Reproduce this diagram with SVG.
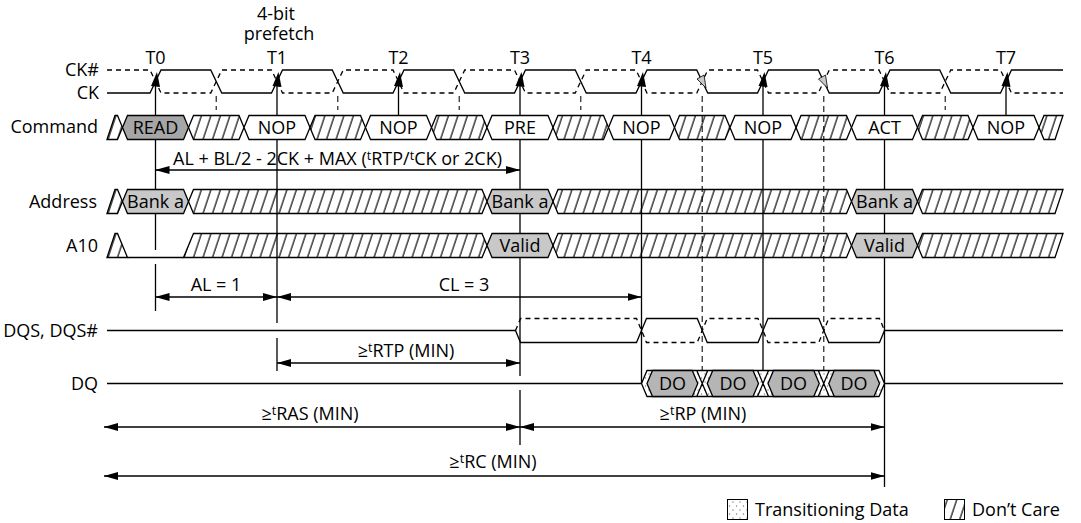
<svg xmlns="http://www.w3.org/2000/svg" width="1081" height="523" viewBox="0 0 1081 523">
<style>
text{font-family:"Open Sans","Liberation Sans",sans-serif;font-size:18px;fill:#000}
.lbl{text-anchor:end}
.c{text-anchor:middle}
.sig{fill:none;stroke:#000;stroke-width:1.3}
.dash{fill:none;stroke:#000;stroke-width:1.3;stroke-dasharray:5,4}
.hx{fill:url(#hatch);stroke:#000;stroke-width:1.3}
.wh{fill:#fff;stroke:#000;stroke-width:1.3}
.g1{fill:#a6a6a6;stroke:#000;stroke-width:1.3}
.g2{fill:#c8c8c8;stroke:#000;stroke-width:1.3}
.g3{fill:#b5b5b5;stroke:#000;stroke-width:1.3}
.vl{fill:none;stroke:#000;stroke-width:1.3}
.vd{fill:none;stroke:#333;stroke-width:1.3;stroke-dasharray:6,4}
.dim{fill:none;stroke:#000;stroke-width:1.3;marker-start:url(#ah);marker-end:url(#ah)}
</style>
<defs>
<pattern id="hatch" patternUnits="userSpaceOnUse" width="9.5" height="20" patternTransform="skewX(-18.4)">
<line x1="2" y1="-1" x2="2" y2="21" stroke="#000" stroke-width="1.2"/>
</pattern>
<pattern id="dots" patternUnits="userSpaceOnUse" width="7" height="8">
<rect width="7" height="8" fill="#fff"/>
<circle cx="1.5" cy="2" r="0.7" fill="#777"/>
<circle cx="5" cy="6" r="0.7" fill="#777"/>
</pattern>
<marker id="ah" viewBox="0 0 14 8" refX="14" refY="4" markerWidth="14" markerHeight="8" markerUnits="userSpaceOnUse" orient="auto-start-reverse">
<path d="M0,0 L14,4 L0,8 z" fill="#000"/>
</marker>
</defs>

<g id="connectors">
<path class="vl" d="M155.5,86V250M155.5,264V311M277,86V323M277,338V371M398.5,86V116M520,86V376M520,390V445M641.5,86V383M763,86V371M884.5,86V487M1006,86V116"/>
<path class="vd" d="M216.25,96V110M337.75,96V110M459.25,96V110M580.75,96V110M945.25,96V110M702.25,96V371M823.75,96V371"/>
<path class="dim" d="M155.5,170H520"/>
<path class="dim" d="M155.5,297H277"/>
<path class="dim" d="M277,297H641.5"/>
<path class="dim" d="M277,363H520"/>
<path class="dim" d="M104,427H520"/>
<path class="dim" d="M520,427H884.5"/>
<path class="dim" d="M104,476H884.5"/>
<text class="c" x="337.5" y="165">AL + BL/2 - 2CK + MAX (<tspan font-size="12.5" dy="-5">t</tspan><tspan dy="5">RTP/</tspan><tspan font-size="12.5" dy="-5">t</tspan><tspan dy="5">CK or 2CK)</tspan></text>
<text class="c" x="216" y="291">AL = 1</text>
<text class="c" x="464" y="291">CL = 3</text>
<text class="c" x="406" y="357">≥<tspan font-size="12.5" dy="-5">t</tspan><tspan dy="5">RTP (MIN)</tspan></text>
<text class="c" x="310" y="420">≥<tspan font-size="12.5" dy="-5">t</tspan><tspan dy="5">RAS (MIN)</tspan></text>
<text class="c" x="703" y="420">≥<tspan font-size="12.5" dy="-5">t</tspan><tspan dy="5">RP (MIN)</tspan></text>
<text class="c" x="493" y="468">≥<tspan font-size="12.5" dy="-5">t</tspan><tspan dy="5">RC (MIN)</tspan></text>
</g>

<g id="clock">
<text class="lbl" x="99" y="76">CK#</text>
<text class="lbl" x="99" y="99">CK</text>
<text class="c"><tspan x="276" y="20">4-bit</tspan><tspan x="279" y="39.5">prefetch</tspan></text>
<text class="c" x="155.5" y="64">T0</text>
<text class="c" x="277" y="64">T1</text>
<text class="c" x="398.5" y="64">T2</text>
<text class="c" x="520" y="64">T3</text>
<text class="c" x="641.5" y="64">T4</text>
<text class="c" x="763" y="64">T5</text>
<text class="c" x="884.5" y="64">T6</text>
<text class="c" x="1006" y="64">T7</text>
<path class="dash" d="M107,70H150L161,93H210.75L221.75,70H271.5L282.5,93H332.25L343.25,70H393L404,93H453.75L464.75,70H514.5L525.5,93H575.25L586.25,70H636L647,93H696.75L707.75,70H757.5L768.5,93H818.25L829.25,70H879L890,93H939.75L950.75,70H1000.5L1011.5,93H1063"/>
<path class="sig" d="M107,93H150L161,70H210.75L221.75,93H271.5L282.5,70H332.25L343.25,93H393L404,70H453.75L464.75,93H514.5L525.5,70H575.25L586.25,93H636L647,70H696.75L707.75,93H757.5L768.5,70H818.25L829.25,93H879L890,70H939.75L950.75,93H1000.5L1011.5,70H1063"/>
<g fill="#000">
<polygon points="157,72 151,86 160,87"/>
<polygon points="278.5,72 272.5,86 281.5,87"/>
<polygon points="400,72 394,86 403,87"/>
<polygon points="521.5,72 515.5,86 524.5,87"/>
<polygon points="643,72 637,86 646,87"/>
<polygon points="764.5,72 758.5,86 767.5,87"/>
<polygon points="886,72 880,86 889,87"/>
<polygon points="1007.5,72 1001.5,86 1010.5,87"/>
</g>
<polygon points="706,88 697,79 704,75" fill="#c8c8c8" stroke="#000" stroke-width="0.8"/>
<polygon points="827.5,88 818.5,79 825.5,75" fill="#c8c8c8" stroke="#000" stroke-width="0.8"/>
</g>

<g id="command">
<text class="lbl" x="98" y="133">Command</text>
<g transform="translate(0,115.5)">
<polygon class="hx" points="107,24 115,0 117.5,0 122.5,12 117.5,24"/>
<polygon class="g1" points="122.5,12 127.5,0 183.5,0 188.5,12 183.5,24 127.5,24"/>
<polygon class="hx" points="188.5,12 193.5,0 239,0 244,12 239,24 193.5,24"/>
<polygon class="wh" points="244,12 249,0 305,0 310,12 305,24 249,24"/>
<polygon class="hx" points="310,12 315,0 360.5,0 365.5,12 360.5,24 315,24"/>
<polygon class="wh" points="365.5,12 370.5,0 426.5,0 431.5,12 426.5,24 370.5,24"/>
<polygon class="hx" points="431.5,12 436.5,0 482,0 487,12 482,24 436.5,24"/>
<polygon class="wh" points="487,12 492,0 548,0 553,12 548,24 492,24"/>
<polygon class="hx" points="553,12 558,0 603.5,0 608.5,12 603.5,24 558,24"/>
<polygon class="wh" points="608.5,12 613.5,0 669.5,0 674.5,12 669.5,24 613.5,24"/>
<polygon class="hx" points="674.5,12 679.5,0 725,0 730,12 725,24 679.5,24"/>
<polygon class="wh" points="730,12 735,0 791,0 796,12 791,24 735,24"/>
<polygon class="hx" points="796,12 801,0 846.5,0 851.5,12 846.5,24 801,24"/>
<polygon class="wh" points="851.5,12 856.5,0 912.5,0 917.5,12 912.5,24 856.5,24"/>
<polygon class="hx" points="917.5,12 922.5,0 968,0 973,12 968,24 922.5,24"/>
<polygon class="wh" points="973,12 978,0 1034,0 1039,12 1034,24 978,24"/>
<polygon class="hx" points="1039,12 1044,0 1063,0 1055,24 1044,24"/>
<text class="c" x="155.5" y="18.5">READ</text>
<text class="c" x="277" y="18.5">NOP</text>
<text class="c" x="398.5" y="18.5">NOP</text>
<text class="c" x="520" y="18.5">PRE</text>
<text class="c" x="641.5" y="18.5">NOP</text>
<text class="c" x="763" y="18.5">NOP</text>
<text class="c" x="884.5" y="18.5">ACT</text>
<text class="c" x="1006" y="18.5">NOP</text>
</g>
</g>

<g id="address">
<text class="lbl" x="97" y="207.5">Address</text>
<g transform="translate(0,189.5)">
<polygon class="hx" points="107,24 115,0 117.5,0 122.5,12 117.5,24"/>
<polygon class="g2" points="122.5,12 127.5,0 183.5,0 188.5,12 183.5,24 127.5,24"/>
<polygon class="hx" points="188.5,12 193.5,0 482,0 487,12 482,24 193.5,24"/>
<polygon class="g2" points="487,12 492,0 548,0 553,12 548,24 492,24"/>
<polygon class="hx" points="553,12 558,0 846.5,0 851.5,12 846.5,24 558,24"/>
<polygon class="g2" points="851.5,12 856.5,0 912.5,0 917.5,12 912.5,24 856.5,24"/>
<polygon class="hx" points="917.5,12 922.5,0 1063,0 1055,24 922.5,24"/>
<text class="c" x="155.5" y="18.5">Bank a</text>
<text class="c" x="520" y="18.5">Bank a</text>
<text class="c" x="884.5" y="18.5">Bank a</text>
</g>
</g>

<g id="a10">
<text class="lbl" x="98" y="251.5">A10</text>
<g transform="translate(0,233.5)">
<polygon class="hx" points="107,24 115,0 117.5,0 127.5,24"/>
<path class="sig" d="M127.5,24H183.5"/>
<polygon class="hx" points="183.5,24 193.5,0 482,0 487,12 482,24"/>
<polygon class="g2" points="487,12 492,0 548,0 553,12 548,24 492,24"/>
<polygon class="hx" points="553,12 558,0 846.5,0 851.5,12 846.5,24 558,24"/>
<polygon class="g2" points="851.5,12 856.5,0 912.5,0 917.5,12 912.5,24 856.5,24"/>
<polygon class="hx" points="917.5,12 922.5,0 1063,0 1055,24 922.5,24"/>
<text class="c" x="520" y="18.5">Valid</text>
<text class="c" x="884.5" y="18.5">Valid</text>
</g>
</g>

<g id="dqs">
<text class="lbl" x="98" y="336.5">DQS, DQS#</text>
<path class="dash" d="M515.5,330.5L520.5,318.5H636.5L646.5,342.5H697.25L707.25,318.5H758L768,342.5H818.75L828.75,318.5H879.5L884.5,330.5"/>
<path class="sig" d="M107,330.5H515.5L520.5,342.5H636.5L646.5,318.5H697.25L707.25,342.5H758L768,318.5H818.75L828.75,342.5H879.5L884.5,330.5H1063"/>
</g>

<g id="dq">
<text class="lbl" x="98" y="389.5">DQ</text>
<polygon points="641.5,383.5 647,370.5 879,370.5 884.5,383.5 879,396.5 647,396.5" fill="url(#dots)" stroke="none"/>
<path class="sig" d="M107,383.5H641.5L647,370.5H879L884.5,383.5H1063M641.5,383.5L647,396.5H879L884.5,383.5M696.75,370.5L707.75,396.5M696.75,396.5L707.75,370.5M757.5,370.5L768.5,396.5M757.5,396.5L768.5,370.5M818.25,370.5L829.25,396.5M818.25,396.5L829.25,370.5"/>
<polygon class="g3" points="647,383.5 652.5,370.5 692.25,370.5 697.75,383.5 692.25,396.5 652.5,396.5"/>
<polygon class="g3" points="707.25,383.5 712.75,370.5 753,370.5 758.5,383.5 753,396.5 712.75,396.5"/>
<polygon class="g3" points="768,383.5 773.5,370.5 813.75,370.5 819.25,383.5 813.75,396.5 773.5,396.5"/>
<polygon class="g3" points="828.75,383.5 834.25,370.5 874,370.5 879.5,383.5 874,396.5 834.25,396.5"/>
<text class="c" x="672.5" y="390">DO</text>
<text class="c" x="733" y="390">DO</text>
<text class="c" x="793.5" y="390">DO</text>
<text class="c" x="854" y="390">DO</text>
</g>

<g id="legend">
<rect x="727.5" y="499.5" width="20" height="20" fill="url(#dots)" stroke="#000" stroke-width="1"/>
<text x="755" y="516" font-size="18.5">Transitioning Data</text>
<rect x="944.5" y="499.5" width="20" height="20" fill="url(#hatch)" stroke="#000" stroke-width="1"/>
<text x="972" y="516" font-size="18.5">Don’t Care</text>
</g>
</svg>
